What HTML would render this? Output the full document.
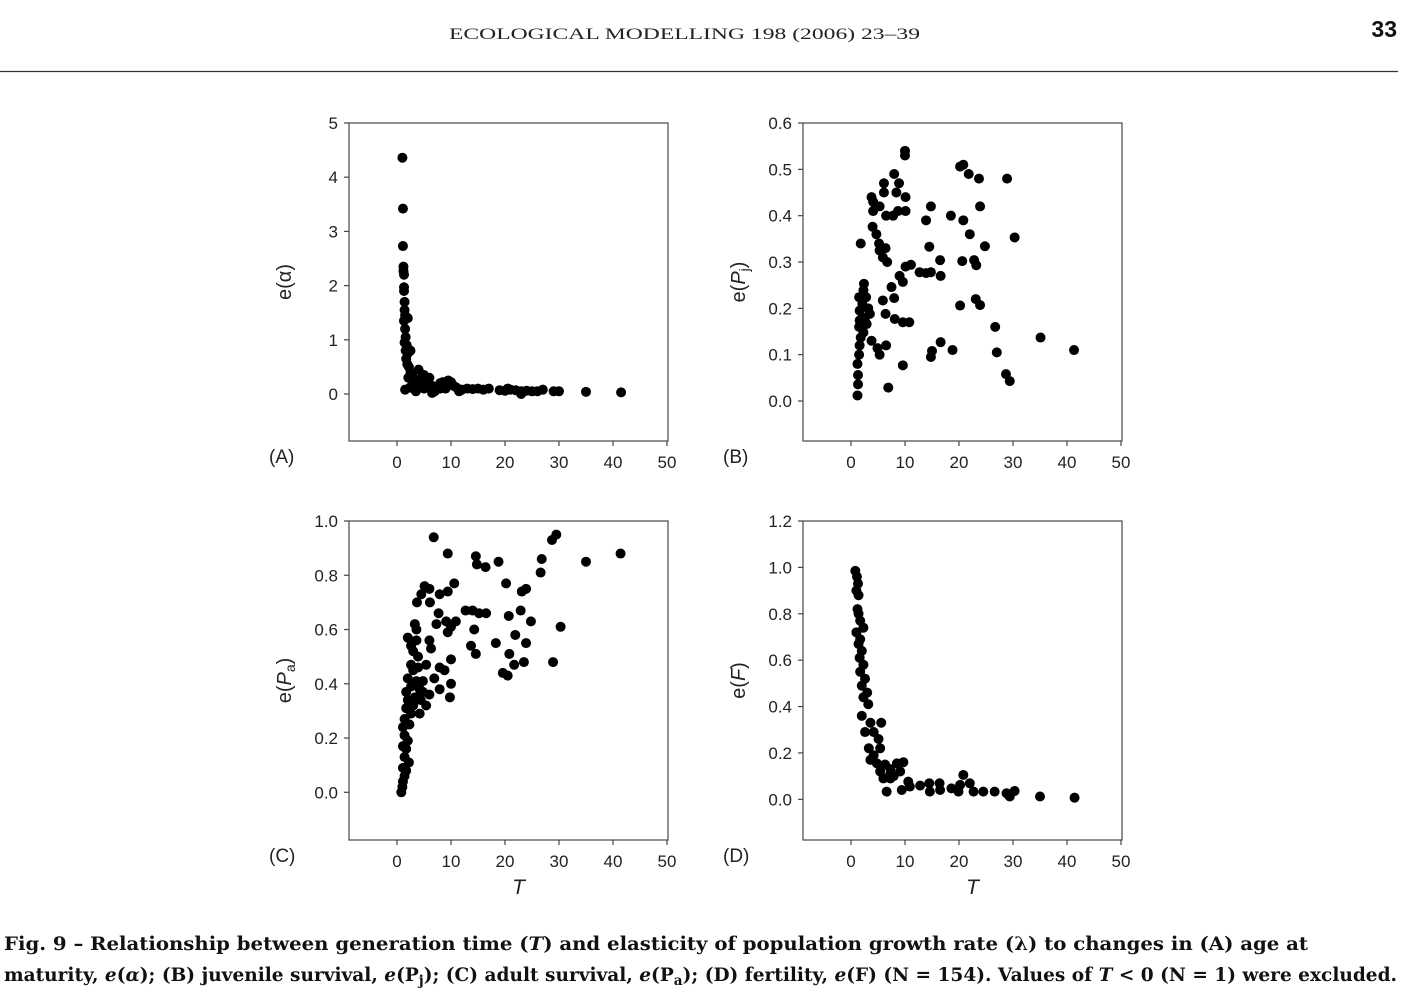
<!DOCTYPE html>
<html><head><meta charset="utf-8"><style>
body{margin:0;background:#fff;width:1408px;height:999px;overflow:hidden}
svg{display:block}
.tk{font-family:"Liberation Sans",sans-serif;font-size:17px;fill:#222}
.cap{font-family:"DejaVu Serif","Liberation Serif",serif;font-size:19px;font-weight:bold;fill:#111}
</style></head><body>
<svg id="fig" width="1408" height="999">
<text x="449" y="39" textLength="471" lengthAdjust="spacingAndGlyphs" font-family="Liberation Serif,serif" font-size="16" fill="#222">ECOLOGICAL MODELLING 198 (2006) 23–39</text>
<text x="1397" y="37" text-anchor="end" font-family="Liberation Sans,sans-serif" font-size="23" font-weight="bold" fill="#111">33</text>
<line x1="0" y1="71.5" x2="1398" y2="71.5" stroke="#333" stroke-width="1.2"/>
<text class="cap" x="4" y="950" textLength="1304" lengthAdjust="spacingAndGlyphs">Fig. 9 – Relationship between generation time (<tspan font-style="italic">T</tspan>) and elasticity of population growth rate (λ) to changes in (A) age at</text>
<text class="cap" x="4" y="981" textLength="1393" lengthAdjust="spacingAndGlyphs">maturity, <tspan font-style="italic">e</tspan>(<tspan font-style="italic">α</tspan>); (B) juvenile survival, <tspan font-style="italic">e</tspan>(P<tspan font-size="14" dy="4">j</tspan><tspan dy="-4">); (C) adult survival, </tspan><tspan font-style="italic">e</tspan>(P<tspan font-size="14" dy="4">a</tspan><tspan dy="-4">); (D) fertility, </tspan><tspan font-style="italic">e</tspan>(F) (N = 154). Values of <tspan font-style="italic">T</tspan> &lt; 0 (N = 1) were excluded.</text>
</svg>
<script>
const xTicks=[0,10,20,30,40,50];
const aTicks=[0,1,2,3,4,5];
const bTicks=[0.0,0.1,0.2,0.3,0.4,0.5,0.6];
const cTicks=[0.0,0.2,0.4,0.6,0.8,1.0];
const dTicks=[0.0,0.2,0.4,0.6,0.8,1.0,1.2];
const aT=[1,1.1,1.1,1.2,1.2,1.3,1.3,1.3,1.4,1.4,1.5,1.3,2,1.5,1.6,1.4,1.8,1.6,2,1.7,1.9,2.2,2.5,2.1,2.8,3,1.5,2.4,3.5,4,4.5,5,5.5,6,6.5,7,7.5,8,8.5,9,9.5,10,10.5,11,12,13,14,15,16,17,19,20,21,22,23,24,25,27,29,30,35,41.5,3,6.5,4,2.5,3.5,5,8,9,11.5,20.5,23,26];
const aY=[4.36,3.42,2.73,2.35,2.27,2.2,1.97,1.9,1.7,1.55,1.45,1.35,1.4,1.2,1.05,0.95,0.9,0.8,0.75,0.65,0.55,0.5,0.4,0.3,0.35,0.25,0.08,0.12,0.2,0.15,0.3,0.35,0.25,0.3,0.15,0.05,0.12,0.2,0.22,0.18,0.25,0.22,0.15,0.12,0.08,0.1,0.09,0.1,0.08,0.1,0.07,0.06,0.08,0.07,0.05,0.06,0.05,0.08,0.05,0.05,0.04,0.03,0.1,0.02,0.45,0.8,0.05,0.1,0.1,0.1,0.05,0.1,0.0,0.05];
const bT=[10,10,20.2,20.8,21.8,23.7,28.9,8,8.9,6.1,6.1,8.4,10.1,3.8,4.1,4.7,4.1,5.3,6.5,7.8,8.7,10.1,14.8,13.9,18.5,20.8,23.9,1.8,4,4.7,5.2,6.4,5.3,5.9,6.7,22,24.8,30.3,14.5,16.5,20.6,22.8,23.2,9,9.6,10.1,11.1,12.7,13.9,14.8,16.6,7.5,8,5.9,6.4,8.1,9.6,10.8,20.2,23.1,23.9,26.7,27,35.1,41.3,28.7,29.4,16.6,15,14.8,18.8,9.6,6.9,3.8,4.9,5.3,6.5,1.2,1.3,1.3,1.2,1.5,1.6,1.8,2.3,1.5,2.9,2.6,1.6,3.2,2.1,1.5,2.8,2.3,2.4,3.5,1.6];
const bY=[0.54,0.53,0.506,0.51,0.49,0.48,0.48,0.49,0.47,0.47,0.45,0.45,0.44,0.44,0.43,0.42,0.41,0.42,0.40,0.40,0.41,0.41,0.42,0.39,0.40,0.39,0.42,0.34,0.376,0.36,0.34,0.33,0.325,0.31,0.30,0.36,0.334,0.353,0.333,0.304,0.302,0.304,0.293,0.27,0.257,0.29,0.294,0.278,0.276,0.278,0.27,0.246,0.222,0.217,0.188,0.177,0.17,0.17,0.206,0.22,0.207,0.16,0.105,0.137,0.11,0.058,0.043,0.127,0.108,0.095,0.11,0.077,0.029,0.13,0.114,0.10,0.12,0.012,0.036,0.056,0.08,0.10,0.12,0.137,0.148,0.16,0.166,0.18,0.195,0.2,0.21,0.224,0.224,0.239,0.253,0.188,0.174];
const cT=[6.8,9.4,14.6,14.8,16.4,18.8,26.8,26.6,28.7,29.5,35,41.4,10.6,5.1,4.5,6,7.9,9.4,3.7,6.1,20.2,23.1,23.9,12.7,14,15.2,16.5,7.7,9.1,10.9,7.3,9.4,10,20.7,22.9,24.8,30.3,14.3,13.7,14.6,18.3,21.9,23.9,20.8,21.7,23.5,19.6,20.5,28.9,10,7.9,8.8,6.9,10,7.9,9.8,6,6,6.3,3.3,3.6,2,3.6,5.4,4.8,4.4,5.4,4.2,0.8,1,1.1,1.4,1.7,1.1,2.2,1.4,1.7,1.1,2,1.4,1.1,2.3,1.4,2.6,1.7,3,2,3.3,1.7,2.6,3.6,2,3,2.6,3.9,3,2.6,3.9,4.8,4.2];
const cY=[0.94,0.88,0.87,0.84,0.83,0.85,0.86,0.81,0.93,0.95,0.85,0.88,0.77,0.76,0.73,0.75,0.73,0.74,0.70,0.70,0.77,0.74,0.75,0.67,0.67,0.66,0.66,0.66,0.63,0.63,0.62,0.59,0.61,0.65,0.67,0.63,0.61,0.60,0.54,0.51,0.55,0.58,0.55,0.51,0.47,0.48,0.44,0.43,0.48,0.49,0.46,0.45,0.42,0.40,0.38,0.35,0.36,0.56,0.53,0.62,0.60,0.57,0.56,0.47,0.41,0.34,0.32,0.29,0.0,0.02,0.04,0.06,0.08,0.09,0.11,0.13,0.16,0.17,0.19,0.21,0.24,0.25,0.27,0.29,0.31,0.32,0.34,0.35,0.37,0.39,0.41,0.42,0.45,0.47,0.50,0.52,0.54,0.46,0.37,0.38];
const dT=[0.8,1.1,1.3,1,1.4,1.2,1.4,1.7,2.3,1,1.7,1.4,2,1.6,2.3,1.7,2.6,2,3,2.3,3.2,2,3.6,5.6,2.6,4.2,5.1,3.3,3.6,4.8,5.4,6.3,7.3,8.5,9.7,9.1,7.9,6.6,9.4,10.6,10.9,12.8,14.5,14.6,16.4,16.5,18.6,19.9,20.8,20.2,22,22.7,24.5,26.6,28.8,29.4,30.3,35,41.4,6,7.3,4.2,5.4,7.3];
const dY=[0.985,0.96,0.93,0.90,0.88,0.82,0.80,0.77,0.74,0.72,0.69,0.67,0.64,0.61,0.58,0.55,0.52,0.49,0.46,0.44,0.41,0.36,0.33,0.33,0.29,0.29,0.26,0.22,0.17,0.155,0.12,0.15,0.13,0.155,0.16,0.12,0.10,0.033,0.04,0.076,0.055,0.059,0.069,0.033,0.069,0.04,0.047,0.033,0.105,0.062,0.069,0.033,0.033,0.033,0.026,0.012,0.036,0.012,0.007,0.09,0.09,0.19,0.22,0.11];

const NS='http://www.w3.org/2000/svg';
const fig=document.getElementById('fig');
function mk(tag,attrs,parent){const e=document.createElementNS(NS,tag);for(const k in attrs)e.setAttribute(k,attrs[k]);(parent||fig).appendChild(e);return e;}

function panel(id,box,xz,ymap,yTicks,fmt,xs,ys,label,ylab,showT){
  const g=mk('g',{});
  
  
  const sx=v=>xz+v*5.4;
  const sy=v=>ymap[0]+(v-ymap[1])*ymap[2];
  const fr=mk('rect',{x:box[0],y:box[1],width:box[2]-box[0],height:box[3]-box[1],fill:'none',stroke:'#555','stroke-width':1.3},g);
  
  
  xTicks.forEach(t=>{
    const x=sx(t);
    mk('line',{x1:x,x2:x,y1:box[3],y2:box[3]+5,stroke:'#444','stroke-width':1.2},g);
    const tx=mk('text',{x:x,y:box[3]+27,'text-anchor':'middle',class:'tk'},g);
    tx.textContent=t;
    
    
  });
  yTicks.forEach(t=>{
    const y=sy(t);
    mk('line',{x1:box[0]-5,x2:box[0],y1:y,y2:y,stroke:'#444','stroke-width':1.2},g);
    const tx=mk('text',{x:box[0]-11,y:y+6,'text-anchor':'end',class:'tk'},g);
    tx.textContent=t.toFixed(fmt);
    
    
  });
  xs.forEach((v,i)=>{
    const c=mk('circle',{cx:sx(v),cy:sy(ys[i]),r:5,fill:'#000'},g);
    
    
  });
  const lb=mk('text',{x:box[0]-80,y:box[3]+22,class:'tk',style:'font-size:19px'},g);
  lb.textContent='('+id.toUpperCase()+')';
  
  
  const yl=mk('text',{x:0,y:0,class:'tk',style:'font-size:20px','text-anchor':'middle',transform:'translate('+(box[0]-58)+','+((box[1]+box[3])/2)+') rotate(-90)'},g);
  yl.innerHTML=ylab;
  
  
  if(showT){
    const t=mk('text',{x:sx(22.5),y:box[3]+54,class:'tk',style:'font-size:21px;font-style:italic','text-anchor':'middle'},g);
    t.textContent='T';
    
    
  }
}
panel('a',[349,123,668,441],397,[394,0,-54.2],aTicks,0,aT,aY,'A','e(α)',false);
panel('b',[803,123,1122,441],851,[401,0,-463.3],bTicks,1,bT,bY,'B','e(<tspan font-style="italic">P</tspan><tspan font-size="14" dy="4">j</tspan><tspan dy="-4">)</tspan>',false);
panel('c',[349,521,668,840],397,[792.3,0,-271.3],cTicks,1,cT,cY,'C','e(<tspan font-style="italic">P</tspan><tspan font-size="14" dy="4">a</tspan><tspan dy="-4">)</tspan>',true);
panel('d',[803,521,1122,840],851,[799.3,0,-231.9],dTicks,1,dT,dY,'D','e(<tspan font-style="italic">F</tspan>)',true);
</script>
</body></html>
